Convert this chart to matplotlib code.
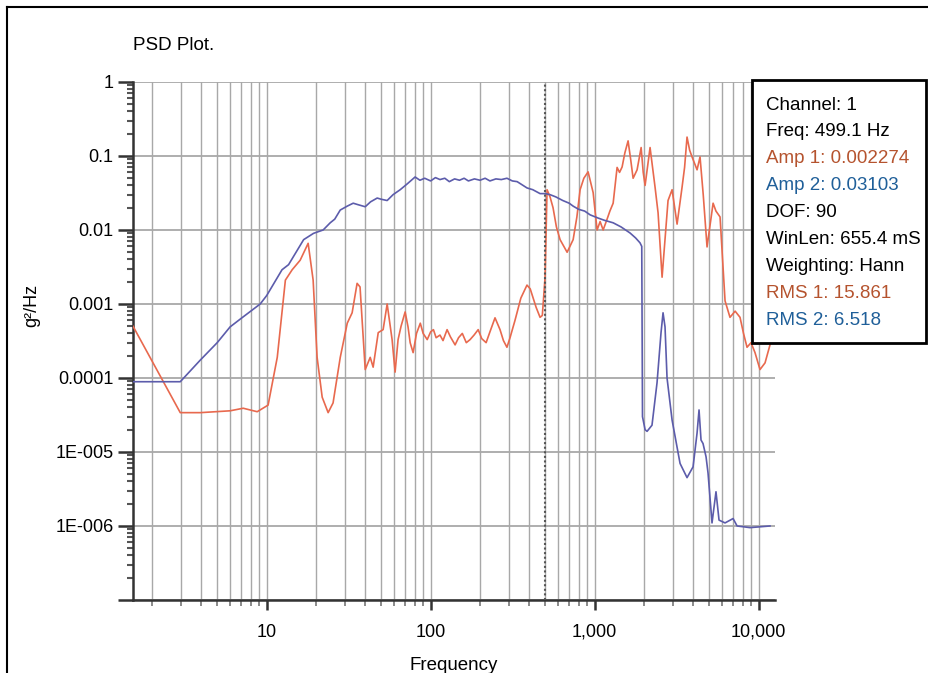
import matplotlib
matplotlib.use('Agg')
import matplotlib.pyplot as plt
from matplotlib.ticker import FixedLocator, LogLocator, NullFormatter
from matplotlib.patches import Rectangle
from matplotlib.lines import Line2D

plt.rcParams['font.family'] = ['Liberation Sans', 'DejaVu Sans']

# channel 1 (red)
freq1 = [1.53, 2.97, 3.94, 5.98, 7.19, 8.75, 10.2, 11.6, 13.0, 14.3, 16.0, 17.9,
         19.2, 20.3, 21.8, 23.7, 25.4, 28.1, 31.0, 33.2, 35.6, 37.1, 39.9, 42.8,
         44.6, 47.9, 51.3, 54.3, 58.2, 60.7, 63.3, 66, 69.9, 72.8, 75, 78.2, 82,
         86.5, 90, 95.3, 100, 104, 108, 114, 119, 126, 132, 141, 148, 156, 165,
         174, 184, 195, 205, 218, 230, 247, 255, 265, 278, 292, 305, 327, 355,
         387, 405, 422, 440, 465, 480, 499, 513, 535, 558, 585, 616, 680, 740,
         780, 816, 860, 913, 980, 1036, 1081, 1128, 1192, 1240, 1298, 1372, 1420,
         1472, 1530, 1601, 1660, 1718, 1817, 1923, 1980, 2033, 2100, 2180, 2338,
         2440, 2581, 2690, 2806, 2970, 3080, 3186, 3418, 3540, 3664, 3800, 3933,
         4218, 4398, 4600, 4853, 5284, 5500, 5826, 6250, 6699, 7200, 7712, 8100,
         8510, 9000, 9520, 10210, 10960, 11750]
psd1 = [5e-4, 3.4e-5, 3.4e-5, 3.6e-5, 3.9e-5, 3.5e-5, 4.3e-5, 1.9e-4, 2.1e-3,
        2.9e-3, 3.9e-3, 6.6e-3, 2.1e-3, 1.9e-4, 5.5e-5, 3.4e-5, 4.6e-5, 1.9e-4,
        5.5e-4, 7.6e-4, 1.9e-3, 1.7e-3, 1.3e-4, 1.9e-4, 1.4e-4, 4.1e-4, 4.5e-4,
        1.0e-3, 3.3e-4, 1.2e-4, 3.3e-4, 5.0e-4, 7.8e-4, 4.9e-4, 3.0e-4, 2.2e-4,
        4.0e-4, 5.5e-4, 4.0e-4, 3.3e-4, 4.2e-4, 4.5e-4, 3.5e-4, 3.8e-4, 3.2e-4,
        4.5e-4, 3.6e-4, 2.8e-4, 3.5e-4, 4.0e-4, 3.0e-4, 3.3e-4, 3.8e-4, 4.5e-4,
        3.4e-4, 3.0e-4, 4.2e-4, 6.5e-4, 5.5e-4, 4.5e-4, 3.2e-4, 2.6e-4, 3.5e-4,
        6.0e-4, 1.2e-3, 1.8e-3, 1.6e-3, 1.2e-3, 9.0e-4, 6.6e-4, 7.0e-4, 2.3e-3,
        0.035, 0.028, 0.02, 0.011, 0.0074, 0.005, 0.0074, 0.015, 0.035, 0.05,
        0.061, 0.032, 0.01, 0.013, 0.01, 0.014, 0.018, 0.023, 0.07, 0.06, 0.071,
        0.11, 0.16, 0.09, 0.05, 0.065, 0.13, 0.06, 0.04, 0.07, 0.13, 0.038,
        0.017, 0.0023, 0.0074, 0.025, 0.035, 0.02, 0.012, 0.038, 0.07, 0.18,
        0.12, 0.097, 0.065, 0.097, 0.03, 0.0059, 0.023, 0.018, 0.015, 0.0011,
        6.6e-4, 8.0e-4, 6.6e-4, 4.0e-4, 2.6e-4, 3.0e-4, 2.2e-4, 1.3e-4, 1.6e-4,
        2.8e-4]

# channel 2 (blue)
freq2 = [1.53, 2.97, 3.94, 4.99, 5.98, 7.06, 9.13, 10.0, 12.4, 13.6, 16.8, 19.3,
         22.1, 24.4, 26, 28.1, 31, 33.7, 36, 39.9, 43, 47.2, 50, 54.3, 59, 65.2,
         72, 80.4, 86, 92, 100, 107, 114, 122, 130, 140, 150, 160, 170, 185, 200,
         215, 230, 250, 270, 292, 315, 337, 360, 387, 420, 465, 500, 535, 580,
         640, 700, 740, 800, 870, 940, 1050, 1150, 1298, 1450, 1646, 1780, 1893,
         1940, 1960, 2033, 2090, 2240, 2404, 2543, 2616, 2690, 2767, 2970, 3322,
         3664, 3988, 4218, 4337, 4460, 4587, 4786, 4921, 5204, 5503, 5743, 6250,
         6997, 7400, 8880, 11750]
psd2 = [8.9e-5, 8.9e-5, 1.75e-4, 3.0e-4, 4.9e-4, 6.5e-4, 1.0e-3, 1.3e-3, 2.9e-3,
        3.4e-3, 7.4e-3, 9.0e-3, 0.010, 0.0125, 0.014, 0.0186, 0.021, 0.023, 0.022,
        0.0206, 0.024, 0.027, 0.026, 0.025, 0.03, 0.035, 0.042, 0.052, 0.047,
        0.05, 0.046, 0.051, 0.048, 0.05, 0.045, 0.049, 0.047, 0.05, 0.046, 0.049,
        0.047, 0.05, 0.046, 0.049, 0.048, 0.05, 0.046, 0.045, 0.041, 0.037,
        0.035, 0.031, 0.031, 0.030, 0.028, 0.025, 0.023, 0.021, 0.019, 0.018,
        0.016, 0.0145, 0.0135, 0.0125, 0.011, 0.0091, 0.0078, 0.0067, 0.006,
        3.0e-5, 2.0e-5, 1.9e-5, 2.3e-5, 8.6e-5, 4.1e-4, 7.6e-4, 4.9e-4, 1.0e-4,
        2.7e-5, 7.0e-6, 4.5e-6, 6.3e-6, 1.8e-5, 3.7e-5, 1.45e-5, 1.3e-5, 8.6e-6,
        5.2e-6, 1.1e-6, 2.9e-6, 1.2e-6, 1.1e-6, 1.26e-6, 1.0e-6, 9.5e-7, 1.0e-6]

cursor_freq = 499.1
ytick_vals = [1e-7, 1e-6, 1e-5, 1e-4, 1e-3, 1e-2, 1e-1, 1]
ytick_labels = ['', '1E-006', '1E-005', '0.0001', '0.001', '0.01', '0.1', '1']
xtick_vals = [10, 100, 1000, 10000]
xtick_labels = ['10', '100', '1,000', '10,000']

info_lines = [
    ('Channel: 1', 'black'),
    ('Freq: 499.1 Hz', 'black'),
    ('Amp 1: 0.002274', '#b5532e'),
    ('Amp 2: 0.03103', '#1f5f99'),
    ('DOF: 90', 'black'),
    ('WinLen: 655.4 mS', 'black'),
    ('Weighting: Hann', 'black'),
    ('RMS 1: 15.861', '#b5532e'),
    ('RMS 2: 6.518', '#1f5f99'),
]

red = '#e8694e'
blue = '#5c5cab'
grid_c = '#a8a8a8'
spine_c = '#333333'

fig = plt.figure(figsize=(9.29, 6.73), dpi=100)
ax = fig.add_axes([0.1432, 0.1085, 0.691, 0.7697])

ax.set_xscale('log')
ax.set_yscale('log')
ax.set_xlim(1.53, 12600)
ax.set_ylim(1e-7, 1)

ax.plot(freq1, psd1, color=red, lw=1.2, zorder=3)
ax.plot(freq2, psd2, color=blue, lw=1.2, zorder=3)
ax.axvline(cursor_freq, color='#555555', ls=(0, (1, 1.2)), lw=1.5, zorder=4)

# ticks
ax.xaxis.set_major_locator(FixedLocator(xtick_vals))
ax.set_xticklabels(xtick_labels)
ax.xaxis.set_minor_locator(LogLocator(base=10, subs=range(2, 10), numticks=20))
ax.xaxis.set_minor_formatter(NullFormatter())
ax.yaxis.set_major_locator(FixedLocator(ytick_vals))
ax.set_yticklabels(ytick_labels)
ax.yaxis.set_minor_locator(LogLocator(base=10, subs=range(2, 10), numticks=20))
ax.yaxis.set_minor_formatter(NullFormatter())

ax.tick_params(axis='both', which='major', labelsize=13, colors=spine_c,
               labelcolor='black', width=1.8)
ax.tick_params(axis='y', which='major', length=11, pad=3)
ax.tick_params(axis='y', which='minor', length=4.5, width=1.5, colors='#555555')
ax.tick_params(axis='x', which='major', length=7, pad=10)
ax.tick_params(axis='x', which='minor', length=4, width=1.2, colors='#777777')

ax.grid(True, axis='x', which='both', color=grid_c, lw=1.0)
ax.grid(True, axis='y', which='major', color=grid_c, lw=1.3)
ax.set_axisbelow(True)

for side in ['top', 'right']:
    ax.spines[side].set_visible(False)
for side in ['left', 'bottom']:
    ax.spines[side].set_color(spine_c)
    ax.spines[side].set_linewidth(1.8)

ax.set_xlabel('Frequency', fontsize=13.5, labelpad=12)
fig.text(32 / 929, 1 - 305 / 673, 'g²/Hz', rotation=90, fontsize=13,
         ha='center', va='center')
fig.text(133 / 929, 1 - 45 / 673, 'PSD Plot.', fontsize=13.5,
         ha='left', va='center')

# outer frame: top and left edges only
fig.add_artist(Line2D([7 / 929, 1.0], [1 - 7 / 673, 1 - 7 / 673],
                      transform=fig.transFigure, color='black', lw=1.5))
fig.add_artist(Line2D([7 / 929, 7 / 929], [0.0, 1 - 7 / 673],
                      transform=fig.transFigure, color='black', lw=1.5))

# info box
box = Rectangle((752 / 929, 1 - 343 / 673), 174 / 929, 263 / 673,
                transform=fig.transFigure, facecolor='white',
                edgecolor='black', lw=2, zorder=5)
fig.add_artist(box)
for i, (txt, col) in enumerate(info_lines):
    y_px = 105 + i * 26.9
    fig.text(766 / 929, 1 - y_px / 673, txt, color=col, fontsize=13.5,
             ha='left', va='center', zorder=6)

fig.savefig('out.png', dpi=100)
